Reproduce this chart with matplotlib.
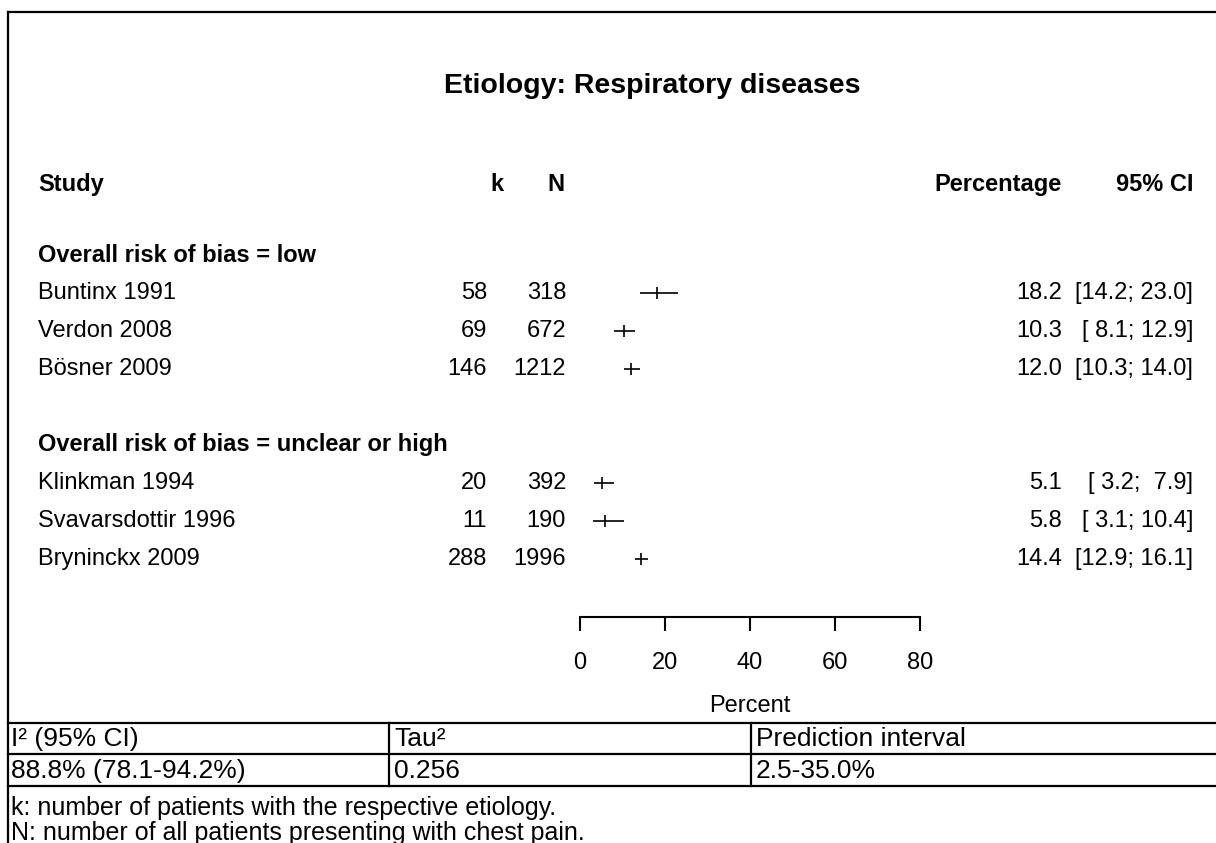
import matplotlib.pyplot as plt
from matplotlib import transforms
from matplotlib.lines import Line2D

plt.rcParams['font.family'] = ['Liberation Sans', 'DejaVu Sans']

# ---- data ----
title = "Etiology: Respiratory diseases"
groups = ["Overall risk of bias = low", "Overall risk of bias = unclear or high"]
studies = ["Buntinx 1991", "Verdon 2008", "Bösner 2009",
           "Klinkman 1994", "Svavarsdottir 1996", "Bryninckx 2009"]
study_group = [0, 0, 0, 1, 1, 1]
k = [58, 69, 146, 20, 11, 288]
n = [318, 672, 1212, 392, 190, 1996]
pct = [18.2, 10.3, 12.0, 5.1, 5.8, 14.4]
lower = [14.2, 8.1, 10.3, 3.2, 3.1, 12.9]
upper = [23.0, 12.9, 14.0, 7.9, 10.4, 16.1]
xticks = [0, 20, 40, 60, 80]

stats_header = ["I² (95% CI)", "Tau²", "Prediction interval"]
stats_values = ["88.8% (78.1-94.2%)", "0.256", "2.5-35.0%"]
notes = ["k: number of patients with the respective etiology.",
         "N: number of all patients presenting with chest pain."]

# ---- layout helpers (pixels -> figure fraction) ----
W, H = 1216, 843
fig = plt.figure(figsize=(W / 100, H / 100), dpi=100)


def fx(p):
    return p / W


def fy(p):
    return 1 - p / H


FS = 17
TFS = 19
row0, step = 255, 38          # pixel y of row 0 and row spacing
top_row, bottom_row = -2.5, (617 - 255) / 38

# row index for every heading / study
heading_rows = []
study_rows = []
r = 0
for g in range(len(groups)):
    if g > 0:
        r += 1  # blank line between groups
    heading_rows.append(r)
    r += 1
    for i, sg in enumerate(study_group):
        if sg == g:
            study_rows.append(r)
            r += 1

ax = fig.add_axes([fx(580), fy(row0 + step * bottom_row),
                   fx(920) - fx(580), step * (bottom_row - top_row) / H])
ax.set_xlim(xticks[0], xticks[-1])
ax.set_ylim(bottom_row, top_row)
ax.patch.set_alpha(0)
for s in ["top", "left", "right"]:
    ax.spines[s].set_visible(False)
ax.spines["bottom"].set_linewidth(1.5)
ax.set_yticks([])
ax.set_xticks(xticks)
ax.tick_params(axis="x", length=10, width=1.5, pad=15, labelsize=FS)
ax.set_xlabel("Percent", fontsize=FS, labelpad=15)

# confidence intervals and point estimates
ax.hlines(study_rows, lower, upper, color="black", lw=1.2)
ax.plot(pct, study_rows, ls="none", marker="|", ms=9, mew=1.2, color="black")

# text columns: x in figure pixels, y in data rows
tr = transforms.blended_transform_factory(fig.transFigure, ax.transData)
hdr_row = -1.85
ax.text(fx(38), hdr_row, "Study", transform=tr, fontsize=FS, fontweight="bold", va="center")
ax.text(fx(497), hdr_row, "k", transform=tr, fontsize=FS, fontweight="bold", va="center", ha="center")
ax.text(fx(556), hdr_row, "N", transform=tr, fontsize=FS, fontweight="bold", va="center", ha="center")
ax.text(fx(1062), hdr_row, "Percentage", transform=tr, fontsize=FS, fontweight="bold", va="center", ha="right")
ax.text(fx(1193), hdr_row, "95% CI", transform=tr, fontsize=FS, fontweight="bold", va="center", ha="right")

for g, hr in zip(groups, heading_rows):
    ax.text(fx(38), hr, g, transform=tr, fontsize=FS, fontweight="bold", va="center")

for i, sr in enumerate(study_rows):
    ax.text(fx(38), sr, studies[i], transform=tr, fontsize=FS, va="center")
    ax.text(fx(487), sr, str(k[i]), transform=tr, fontsize=FS, va="center", ha="right")
    ax.text(fx(566), sr, str(n[i]), transform=tr, fontsize=FS, va="center", ha="right")
    ax.text(fx(1062), sr, f"{pct[i]:.1f}", transform=tr, fontsize=FS, va="center", ha="right")
    ax.text(fx(1193), sr, f"[{lower[i]:4.1f}; {upper[i]:4.1f}]", transform=tr,
            fontsize=FS, va="center", ha="right")

fig.text(fx(652), fy(86), title, fontsize=20.5, fontweight="bold", ha="center", va="center")

# ---- frame and statistics table ----
def hline(y, x0=8, x1=W):
    fig.add_artist(Line2D([fx(x0), fx(x1)], [fy(y), fy(y)], color="black", lw=1.6))


def vline(x, y0, y1):
    fig.add_artist(Line2D([fx(x), fx(x)], [fy(y0), fy(y1)], color="black", lw=1.6))


hline(12)
vline(8, 12, H)
for y in [723, 754, 786]:
    hline(y)
for x in [389, 751]:
    vline(x, 723, 786)

col_x = [11, 394, 756]
for i in range(3):
    fig.text(fx(col_x[i]), fy(739), stats_header[i], fontsize=TFS, va="center")
    fig.text(fx(col_x[i]), fy(771), stats_values[i], fontsize=TFS, va="center")
for j, line in enumerate(notes):
    fig.text(fx(11), fy(808 + 25 * j), line, fontsize=18, va="center")

fig.savefig("out.png", dpi=100, facecolor="white")
